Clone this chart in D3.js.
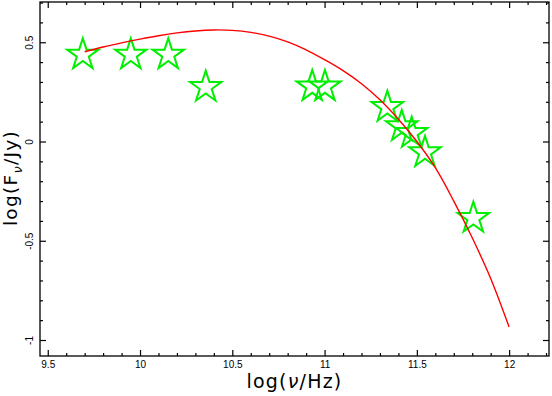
<!DOCTYPE html>
<html>
<head>
<meta charset="utf-8">
<script src="https://cdn.jsdelivr.net/npm/d3@7"></script>
<style>
  body { margin: 0; background: #fff; }
  svg { display: block; }
</style>
</head>
<body>
<svg id="chart" width="552" height="396"></svg>
<script>
// observed points, log(nu/Hz) vs log(F/Jy)
const obsFreq = [9.69, 9.95, 10.153, 10.356, 10.933, 11.002, 11.34, 11.418, 11.472, 11.544, 11.806];
const obsFlux = [0.437, 0.437, 0.437, 0.274, 0.277, 0.277, 0.173, 0.076, 0.042, -0.055, -0.386];

// model curve
const modelFreq = [9.7, 9.8, 9.9, 10.0, 10.1, 10.2, 10.3, 10.4, 10.5, 10.6, 10.7, 10.8,
                   10.9, 11.0, 11.1, 11.2, 11.3, 11.4, 11.5, 11.6, 11.7, 11.8, 11.9, 12.0];
const modelFlux = [0.452, 0.476, 0.497, 0.516, 0.533, 0.547, 0.557, 0.562, 0.560, 0.550, 0.531, 0.502,
                   0.462, 0.412, 0.357, 0.291, 0.210, 0.112, 0.000, -0.132, -0.300, -0.485, -0.690, -0.935];

const xMajor = [9.5, 10, 10.5, 11, 11.5, 12];
const yMajor = [-1, -0.5, 0, 0.5];

const mLeft = 40, mRight = 549, mTop = 2, mBottom = 356;

const svg = d3.select("#chart");

const x = d3.scaleLinear().domain([9.458, 12.216]).range([mLeft, mRight]);
const y = d3.scaleLinear().domain([-1.0806, 0.7028]).range([mBottom, mTop]);

const xMinor = d3.range(95, 123, 1).map(d => d / 10).filter(d => !xMajor.includes(d));
const yMinor = d3.range(-10, 8, 1).map(d => d / 10).filter(d => !yMajor.includes(d));

const fmt = d => String(d);

function drawAxis(axis, tx, ty) {
  const g = svg.append("g")
    .attr("transform", `translate(${tx},${ty})`)
    .call(axis);
  g.select(".domain").remove();
  g.selectAll(".tick line").attr("stroke", "#000").attr("stroke-width", 1.2);
  return g;
}

// bottom
const xAx = drawAxis(d3.axisBottom(x).tickValues(xMajor).tickSize(-6).tickPadding(5).tickFormat(fmt), 0, mBottom);
xAx.selectAll("text")
  .style("font-family", "'Liberation Sans', Arial, sans-serif")
  .style("font-size", "10px")
  .attr("fill", "#000");
drawAxis(d3.axisBottom(x).tickValues(xMinor).tickSize(-3).tickFormat(""), 0, mBottom);
// top
drawAxis(d3.axisTop(x).tickValues(xMajor).tickSize(-6).tickFormat(""), 0, mTop);
drawAxis(d3.axisTop(x).tickValues(xMinor).tickSize(-3).tickFormat(""), 0, mTop);
// left
const yAx = drawAxis(d3.axisLeft(y).tickValues(yMajor).tickSize(-6).tickFormat(fmt), mLeft, 0);
yAx.selectAll("text")
  .attr("transform", "rotate(-90)")
  .attr("x", 0)
  .attr("y", -7)
  .attr("dy", 0)
  .attr("text-anchor", "middle")
  .attr("fill", "#000")
  .style("font-family", "'Liberation Sans', Arial, sans-serif")
  .style("font-size", "10px");
drawAxis(d3.axisLeft(y).tickValues(yMinor).tickSize(-3).tickFormat(""), mLeft, 0);
// right
drawAxis(d3.axisRight(y).tickValues(yMajor).tickSize(-6).tickFormat(""), mRight, 0);
drawAxis(d3.axisRight(y).tickValues(yMinor).tickSize(-3).tickFormat(""), mRight, 0);

// frame
svg.append("rect")
  .attr("x", mLeft).attr("y", mTop)
  .attr("width", mRight - mLeft).attr("height", mBottom - mTop)
  .attr("fill", "none")
  .attr("stroke", "#000")
  .attr("stroke-width", 1.3);

// stars
const R = 16.5;
const star = d3.symbol().type(d3.symbolStar).size(R * R / 0.8908130915);
svg.append("g")
  .selectAll("path")
  .data(obsFreq.map((f, i) => [f, obsFlux[i]]))
  .join("path")
  .attr("transform", d => `translate(${x(d[0])},${y(d[1])})`)
  .attr("d", star)
  .attr("fill", "none")
  .attr("stroke", "#00ee00")
  .attr("stroke-width", 2)
  .attr("stroke-linejoin", "miter");

// model
const line = d3.line()
  .x(d => x(d[0]))
  .y(d => y(d[1]))
  .curve(d3.curveCatmullRom);
svg.append("path")
  .datum(modelFreq.map((f, i) => [f, modelFlux[i]]))
  .attr("d", line)
  .attr("fill", "none")
  .attr("stroke", "#ff0000")
  .attr("stroke-width", 1.4);

// axis titles
const titleFont = "'DejaVu Sans', Verdana, sans-serif";
const xt = svg.append("text")
  .attr("x", (mLeft + mRight) / 2)
  .attr("y", 388)
  .attr("text-anchor", "middle")
  .style("font-family", titleFont)
  .style("font-size", "19px")
  .style("letter-spacing", "1.2px");
xt.append("tspan").text("log(");
xt.append("tspan").style("font-style", "italic").text("ν");
xt.append("tspan").text("/Hz)");

const yt = svg.append("text")
  .attr("transform", `translate(17,178) rotate(-90)`)
  .attr("text-anchor", "middle")
  .style("font-family", titleFont)
  .style("font-size", "18.5px")
  .style("letter-spacing", "1.3px");
yt.append("tspan").text("log(F");
yt.append("tspan").attr("dy", 5).style("font-size", "13px").style("font-style", "italic").text("ν");
yt.append("tspan").attr("dy", -5).text("/Jy)");
</script>
</body>
</html>
